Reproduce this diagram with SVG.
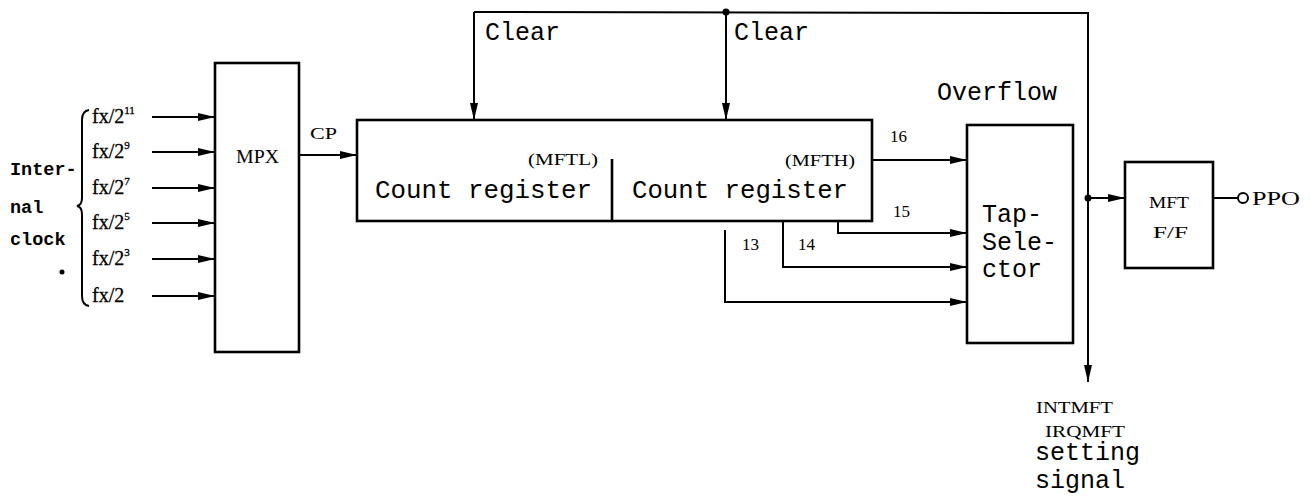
<svg xmlns="http://www.w3.org/2000/svg" width="1310" height="502" viewBox="0 0 1310 502">
<style>
.box{fill:none;stroke:#000;stroke-width:2.6}
.ln{fill:none;stroke:#000;stroke-width:2}
.mono{font-family:"Liberation Mono","DejaVu Sans Mono",monospace;fill:#000}
.serif{font-family:"Liberation Serif","DejaVu Serif",serif;fill:#000}
.bm{font-family:"Liberation Mono","DejaVu Sans Mono",monospace;font-weight:bold;font-size:18.5px;fill:#000}
.fx{font-size:20px;stroke:#000;stroke-width:0.3}
.sup{font-size:11px}
</style>
<defs>
<marker id="ah" markerUnits="userSpaceOnUse" markerWidth="18" markerHeight="10" refX="17" refY="4" orient="auto">
<path d="M0,0 L17,4 L0,8 z" fill="#000"/>
</marker>
</defs>
<rect width="1310" height="502" fill="#fff"/>

<g id="internal-clock">
<text class="bm" x="10" y="175">Inter-</text>
<text class="bm" x="10" y="213">nal</text>
<text class="bm" x="10" y="245">clock</text>
<circle cx="62" cy="272" r="2.5" fill="#000"/>
<path class="ln" d="M89,110 Q82,111 82,120 L82,198 Q82,205 77,206 Q82,207 82,214 L82,296 Q82,305 89,306"/>
<text class="serif fx" x="92" y="123">fx/2<tspan class="sup" dy="-9">11</tspan></text>
<text class="serif fx" x="92" y="158">fx/2<tspan class="sup" dy="-9">9</tspan></text>
<text class="serif fx" x="92" y="194">fx/2<tspan class="sup" dy="-9">7</tspan></text>
<text class="serif fx" x="92" y="229">fx/2<tspan class="sup" dy="-9">5</tspan></text>
<text class="serif fx" x="92" y="265">fx/2<tspan class="sup" dy="-9">3</tspan></text>
<text class="serif fx" x="92" y="302">fx/2</text>
</g>

<g id="mpx">
<rect class="box" x="215" y="63" width="84" height="289"/>
<text class="serif" x="236" y="163" font-size="18" textLength="43" lengthAdjust="spacingAndGlyphs">MPX</text>
</g>

<g id="count-register">
<rect class="box" x="357" y="120" width="515" height="101"/>
<line class="box" x1="612" y1="159" x2="612" y2="221"/>
<text class="serif" x="528" y="165" font-size="17" textLength="70" lengthAdjust="spacingAndGlyphs">(MFTL)</text>
<text class="mono" x="375" y="198" font-size="25" textLength="217" lengthAdjust="spacingAndGlyphs">Count register</text>
<text class="serif" x="785" y="166" font-size="17" textLength="70" lengthAdjust="spacingAndGlyphs">(MFTH)</text>
<text class="mono" x="632" y="198" font-size="25" textLength="216" lengthAdjust="spacingAndGlyphs">Count register</text>
</g>

<g id="tap-selector">
<rect class="box" x="967" y="125" width="106" height="218"/>
<text class="mono" x="982" y="222" font-size="25">Tap-</text>
<text class="mono" x="982" y="250" font-size="25">Sele-</text>
<text class="mono" x="982" y="277" font-size="25">ctor</text>
</g>

<g id="mft-ff">
<rect class="box" x="1125" y="162" width="88" height="106"/>
<text class="serif" x="1149" y="208" font-size="17" textLength="40" lengthAdjust="spacingAndGlyphs">MFT</text>
<text class="serif" x="1153" y="238" font-size="17" textLength="35" lengthAdjust="spacingAndGlyphs">F/F</text>
</g>

<g id="ppo">
<circle cx="1243" cy="198" r="5" fill="#fff" stroke="#000" stroke-width="2"/>
<text class="serif" x="1252" y="205" font-size="18" textLength="48" lengthAdjust="spacingAndGlyphs">PPO</text>
</g>

<g id="connectors">
<line class="ln" x1="152" y1="117" x2="215" y2="117" marker-end="url(#ah)"/>
<line class="ln" x1="152" y1="152" x2="215" y2="152" marker-end="url(#ah)"/>
<line class="ln" x1="152" y1="188" x2="215" y2="188" marker-end="url(#ah)"/>
<line class="ln" x1="152" y1="223" x2="215" y2="223" marker-end="url(#ah)"/>
<line class="ln" x1="152" y1="259" x2="215" y2="259" marker-end="url(#ah)"/>
<line class="ln" x1="152" y1="296" x2="215" y2="296" marker-end="url(#ah)"/>
<line class="ln" x1="299" y1="155" x2="357" y2="155" marker-end="url(#ah)"/>
<text class="serif" x="310" y="139" font-size="17" textLength="27" lengthAdjust="spacingAndGlyphs">CP</text>

<path class="ln" d="M474,12 L1088,13 L1088,382" marker-end="url(#ah)"/>
<line class="ln" x1="474" y1="12" x2="474" y2="120" marker-end="url(#ah)"/>
<line class="ln" x1="726" y1="12" x2="726" y2="120" marker-end="url(#ah)"/>
<circle cx="726" cy="12" r="3.5" fill="#000"/>
<text class="mono" x="485" y="40" font-size="25">Clear</text>
<text class="mono" x="734" y="40" font-size="25">Clear</text>
<text class="mono" x="937" y="100" font-size="25">Overflow</text>

<line class="ln" x1="872" y1="160" x2="967" y2="160" marker-end="url(#ah)"/>
<path class="ln" d="M838,221 L838,233 L967,233" marker-end="url(#ah)"/>
<path class="ln" d="M783,221 L783,267 L967,267" marker-end="url(#ah)"/>
<path class="ln" d="M725,230 L725,302 L967,302" marker-end="url(#ah)"/>
<text class="serif" x="890" y="142" font-size="17">16</text>
<text class="serif" x="893" y="217" font-size="17">15</text>
<text class="serif" x="798" y="250" font-size="17">14</text>
<text class="serif" x="742" y="250" font-size="17">13</text>

<line class="ln" x1="1088" y1="198" x2="1125" y2="198" marker-end="url(#ah)"/>
<circle cx="1088" cy="198" r="3.5" fill="#000"/>
<line class="ln" x1="1213" y1="198" x2="1238" y2="198"/>

<text class="serif" x="1036" y="413" font-size="16" textLength="77" lengthAdjust="spacingAndGlyphs">INTMFT</text>
<text class="serif" x="1045" y="437" font-size="16" textLength="80" lengthAdjust="spacingAndGlyphs">IRQMFT</text>
<text class="mono" x="1035" y="460" font-size="25">setting</text>
<text class="mono" x="1035" y="488" font-size="25">signal</text>
</g>
</svg>
